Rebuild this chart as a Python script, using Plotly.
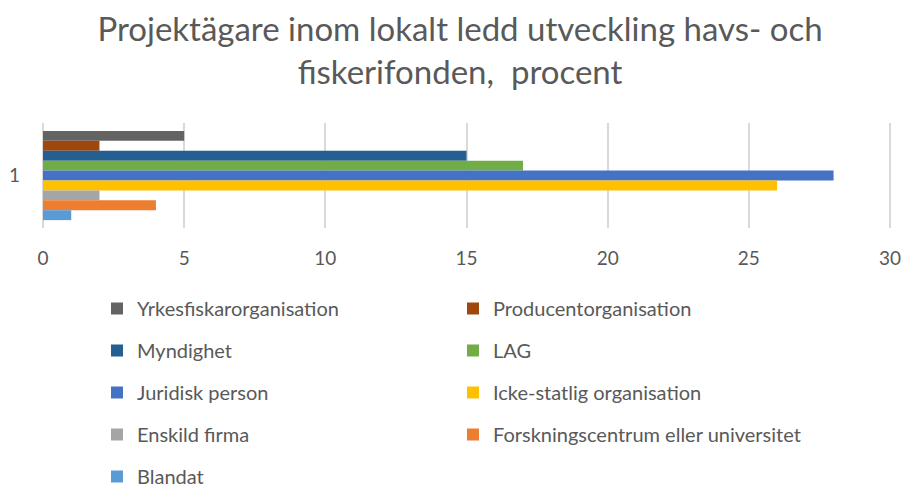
import plotly.graph_objects as go

categories = ["1"]
series_names = [
    "Yrkesfiskarorganisation",
    "Producentorganisation",
    "Myndighet",
    "LAG",
    "Juridisk person",
    "Icke-statlig organisation",
    "Enskild firma",
    "Forskningscentrum eller universitet",
    "Blandat",
]
series_values = [5, 2, 15, 17, 28, 26, 2, 4, 1]
series_colors = ["#636363", "#9e480e", "#255e91", "#70ad47", "#4472c4",
                 "#ffc000", "#a5a5a5", "#ed7d31", "#5b9bd5"]
x_ticks = [0, 5, 10, 15, 20, 25, 30]

FONT = "Lato"
TXT = "#595959"

W, H = 904, 488

fig = go.Figure()
for i, (name, val, col) in enumerate(zip(series_names, series_values, series_colors)):
    fig.add_trace(go.Bar(
        y=categories, x=[val], name=name, orientation="h",
        marker=dict(color=col, line=dict(width=0)),
        legendgroup=f"g{i}",
        legend="legend" if i % 2 == 0 else "legend2",
        hovertemplate=f"{name}: %{{x}}<extra></extra>",
    ))

legend_common = dict(
    orientation="v", xref="container", yref="container",
    xanchor="left", yanchor="top",
    font=dict(family=FONT, size=20, color=TXT),
    tracegroupgap=13, itemwidth=30, bgcolor="rgba(0,0,0,0)",
)

fig.update_layout(
    width=W, height=H,
    margin=dict(l=43, r=12, t=123, b=260, autoexpand=False),
    paper_bgcolor="white", plot_bgcolor="white",
    title=dict(
        text="Projektägare inom lokalt ledd utveckling havs- och<br>fiskerifonden,  procent",
        x=460 / W, xanchor="center", y=1 - 41 / H, yanchor="middle",
        font=dict(family=FONT, size=33, color=TXT),
    ),
    barmode="group", bargap=0.15, bargroupgap=0,
    xaxis=dict(
        range=[0, 30.07], tickvals=x_ticks, ticktext=[str(t) for t in x_ticks],
        showgrid=True, gridcolor="#d9d9d9", gridwidth=2,
        zeroline=True, zerolinecolor="#d9d9d9", zerolinewidth=2,
        showline=False, ticks="", ticklabelstandoff=17,
        ticklabeloverflow="allow",
        tickfont=dict(family=FONT, size=19, color=TXT), fixedrange=True,
    ),
    yaxis=dict(
        type="category", autorange="reversed",
        showgrid=False, zeroline=False, showline=False, ticks="",
        ticklabelstandoff=22,
        tickfont=dict(family=FONT, size=19, color=TXT), fixedrange=True,
    ),
    legend=dict(x=97 / W, y=1 - 289 / H, **legend_common),
    legend2=dict(x=453 / W, y=1 - 289 / H, **legend_common),
    showlegend=True,
)

# remove the default 8px page margin so the 904x488 figure fills the window exactly
fig.write_html(
    "out.html",
    config={"displayModeBar": False},
    post_script="document.body.style.margin='0';document.body.style.overflow='hidden';",
)
